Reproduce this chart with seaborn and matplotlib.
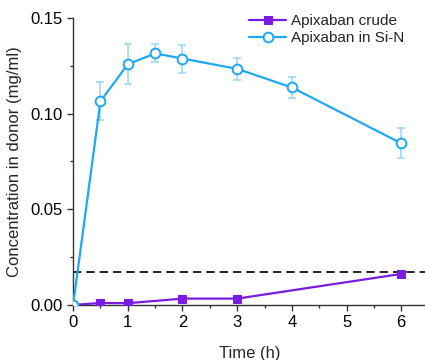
import matplotlib
matplotlib.use("Agg")
import matplotlib.pyplot as plt
import seaborn as sns
import pandas as pd
import numpy as np
from matplotlib.ticker import MultipleLocator

time_h = [0, 0.5, 1, 2, 3, 6]
crude = [0.0, 0.001, 0.0009, 0.0033, 0.0033, 0.0162]
time_sin = [0, 0.5, 1, 1.5, 2, 3, 4, 6]
sin_vals = [0.0, 0.1065, 0.1258, 0.1315, 0.1288, 0.1234, 0.1137, 0.0845]
sin_err = [0.0, 0.0100, 0.0105, 0.0047, 0.0073, 0.0058, 0.0053, 0.0078]
solubility = 0.0172

sns.set_theme(style="ticks")
plt.rcParams['font.family'] = ['Liberation Sans', 'DejaVu Sans']

c_crude = "#7A1BE3"
c_sin = "#1EA8F5"

fig = plt.figure(figsize=(4.25, 3.6), dpi=100)
ax = fig.add_axes([0.172, 0.153, 0.83, 0.797])

df_c = pd.DataFrame({"t": time_h, "c": crude})
df_s = pd.DataFrame({"t": time_sin, "c": sin_vals})

ax.axhline(solubility, color="black", linestyle=(0, (5, 3)), linewidth=1.2, zorder=1)

ax.errorbar(time_sin[1:], sin_vals[1:], yerr=sin_err[1:], fmt="none",
            ecolor="#9ED8F8", elinewidth=1.2, capsize=3, capthick=1.2, zorder=2)

sns.lineplot(data=df_c, x="t", y="c", ax=ax, color=c_crude, marker="s",
             markersize=6, markeredgecolor=c_crude, linewidth=1.6,
             label="Apixaban crude", zorder=3)
sns.lineplot(data=df_s, x="t", y="c", ax=ax, color=c_sin, marker="o",
             markersize=7, markerfacecolor="white", markeredgecolor=c_sin,
             markeredgewidth=1.4, linewidth=1.6, label="Apixaban in Si-N", zorder=4)

ax.set_xlim(0, 6.45)
ax.set_ylim(0, 0.15)
ax.xaxis.set_major_locator(MultipleLocator(1))
ax.xaxis.set_minor_locator(MultipleLocator(0.5))
ax.yaxis.set_major_locator(MultipleLocator(0.05))
ax.yaxis.set_minor_locator(MultipleLocator(0.025))
ax.yaxis.set_major_formatter(matplotlib.ticker.FormatStrFormatter("%.2f"))
ax.tick_params(which="major", length=4, width=1, labelsize=12, colors="#333333", labelcolor="black")
ax.tick_params(which="minor", length=2.5, width=1, colors="#333333")
for s in ["left", "bottom"]:
    ax.spines[s].set_color("#333333")
    ax.spines[s].set_linewidth(1)
sns.despine(ax=ax)

ax.set_xlabel("Time (h)", fontsize=12, labelpad=11)
ax.set_ylabel("Concentration in donor (mg/ml)", fontsize=12, labelpad=6)

leg = ax.legend(loc="upper right", frameon=False, fontsize=11, handlelength=2.4,
                borderaxespad=0.0, handletextpad=0.3, labelspacing=0.2,
                bbox_to_anchor=(0.955, 1.035))

fig.savefig("out.png", dpi=100)
